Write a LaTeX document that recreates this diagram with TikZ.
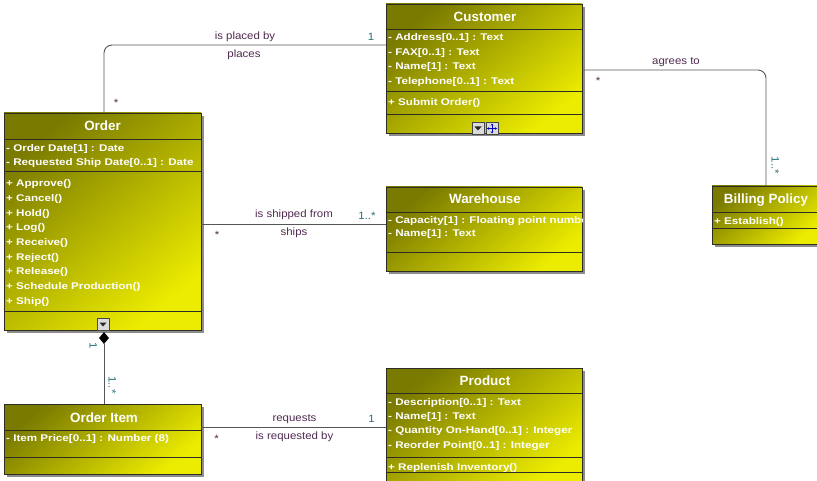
\documentclass[tikz,border=0pt]{standalone}
\usepackage{fontspec}
\setmainfont{Liberation Sans}
\newfontfamily\attrfont[FakeStretch=1.2]{Liberation Sans}
\newfontfamily\labfont[FakeStretch=1.08]{Liberation Sans}
\usetikzlibrary{calc,shadows,shapes.geometric,arrows.meta}
\definecolor{olivedark}{RGB}{122,122,0}
\definecolor{yellowbright}{RGB}{236,236,0}
\definecolor{boxline}{RGB}{45,45,35}
\definecolor{shadowgray}{RGB}{140,140,140}
\definecolor{linecol}{RGB}{85,85,85}
\definecolor{rolecol}{RGB}{80,42,80}
\definecolor{multcol}{RGB}{40,112,122}
\tikzset{
  cls/.style={draw=boxline, line width=0.8pt, inner sep=0pt, outer sep=0pt,
    top color=olivedark, bottom color=yellowbright, shading angle=40,
    drop shadow={shadow xshift=3pt, shadow yshift=-3pt, fill=shadowgray, opacity=1}},
  sepline/.style={draw=boxline, line width=0.8pt},
  ttl/.style={inner sep=0pt, text=white, font=\bfseries\fontsize{13.4}{14}\selectfont},
  attr/.style={anchor=west, inner sep=0pt, text=white, text height=6.8pt, text depth=0pt,
    font=\attrfont\bfseries\fontsize{9.7}{10}\selectfont},
  assoc/.style={draw=linecol, line width=0.9pt},
  role/.style={inner sep=0pt, text=rolecol, text height=7.6pt, text depth=2pt,
    font=\labfont\fontsize{10.6}{12}\selectfont},
  mult/.style={inner sep=0pt, text=multcol, text height=7.6pt, text depth=0pt,
    font=\labfont\fontsize{10.6}{12}\selectfont},
  star/.style={inner sep=0pt, text=rolecol, text height=7.6pt, text depth=0pt,
    font=\labfont\fontsize{10.6}{12}\selectfont},
  iconbox/.style={draw=gray!55!black, fill=gray!28, minimum size=12pt, inner sep=0pt, line width=0.6pt}
}
\newcommand{\clsep}[2]{\draw[sepline] (#1.west |- 0,#2) -- (#1.east |- 0,#2);}
\begin{document}
\begin{tikzpicture}[x=1pt,y=-1pt]
\useasboundingbox (0,0) rectangle (817,481);
\fill[white] (0,0) rectangle (817,481);

% ---------- classes ----------
\node[cls, minimum width=196pt, minimum height=129pt] (customer) at (484,68.5) {};
\clsep{customer}{29}\clsep{customer}{91}\clsep{customer}{114}
\node[ttl] (customert) at (485,17) {Customer};
\node[attr] (c1) at (388,36.7) {- Address[0..1] : Text};
\node[attr] (c2) at (388,51.7) {- FAX[0..1] : Text};
\node[attr] (c3) at (388,66.5) {- Name[1] : Text};
\node[attr] (c4) at (388,81) {- Telephone[0..1] : Text};
\node[attr] (c5) at (388,102.3) {+ Submit Order()};
\node[iconbox] (cicon1) at (478,128.5) {};
\fill[gray!30!black] (474.5,126.5) -- (481.5,126.5) -- (478,130.5) -- cycle;
\node[iconbox] (cicon2) at (492,128.5) {};
\draw[blue!75!black, line width=0.6pt, {Stealth[length=2pt,width=2.5pt]}-{Stealth[length=2pt,width=2.5pt]}] (487,128.5) -- (497,128.5);
\draw[blue!75!black, line width=0.6pt, {Stealth[length=2pt,width=2.5pt]}-{Stealth[length=2pt,width=2.5pt]}] (492,123.5) -- (492,133.5);

\node[cls, minimum width=197pt, minimum height=217pt] (order) at (102.5,221.5) {};
\clsep{order}{139}\clsep{order}{171}\clsep{order}{311}
\node[ttl] (ordert) at (102.5,126) {Order};
\node[attr] (o1) at (6,147.7) {- Order Date[1] : Date};
\node[attr] (o2) at (6,162) {- Requested Ship Date[0..1] : Date};
\node[attr] (o3) at (6,183.5) {+ Approve()};
\node[attr] (o4) at (6,198.1) {+ Cancel()};
\node[attr] (o5) at (6,212.8) {+ Hold()};
\node[attr] (o6) at (6,227.4) {+ Log()};
\node[attr] (o7) at (6,242.1) {+ Receive()};
\node[attr] (o8) at (6,256.7) {+ Reject()};
\node[attr] (o9) at (6,271.4) {+ Release()};
\node[attr] (o10) at (6,286) {+ Schedule Production()};
\node[attr] (o11) at (6,300.7) {+ Ship()};
\node[iconbox] (oicon) at (103,324.5) {};
\fill[gray!30!black] (99.5,322.5) -- (106.5,322.5) -- (103,326.5) -- cycle;

\node[cls, minimum width=196pt, minimum height=84pt] (warehouse) at (484,229) {};
\clsep{warehouse}{212}\clsep{warehouse}{252}
\node[ttl] (warehouset) at (485,199) {Warehouse};
\begin{scope}
\clip (386,187) rectangle (582,271);
\node[attr] (w1) at (388,220) {- Capacity[1] : Floating point number};
\end{scope}
\node[attr] (w2) at (388,233.5) {- Name[1] : Text};

\node[cls, minimum width=108pt, minimum height=58pt] (billing) at (766,215) {};
\clsep{billing}{212}\clsep{billing}{228}
\node[ttl] (billingt) at (766,200) {Billing Policy};
\node[attr] (b1) at (714,221.5) {+ Establish()};

\node[cls, minimum width=197pt, minimum height=70pt] (orderitem) at (102.5,439) {};
\clsep{orderitem}{430}\clsep{orderitem}{457}
\node[ttl] (orderitemt) at (104,417.3) {Order Item};
\node[attr] (i1) at (6,437.7) {- Item Price[0..1] : Number (8)};

\node[cls, minimum width=196pt, minimum height=118pt] (product) at (484,427) {};
\clsep{product}{393}\clsep{product}{457}\clsep{product}{472}
\node[ttl] (productt) at (485,380.7) {Product};
\node[attr] (p1) at (388,401.7) {- Description[0..1] : Text};
\node[attr] (p2) at (388,415.7) {- Name[1] : Text};
\node[attr] (p3) at (388,430.5) {- Quantity On-Hand[0..1] : Integer};
\node[attr] (p4) at (388,445) {- Reorder Point[0..1] : Integer};
\node[attr] (p5) at (388,466.7) {+ Replenish Inventory()};

% ---------- connectors ----------
\draw[assoc, rounded corners=8pt] (order.north -| 104,0) |- (customer.west |- 0,45);
\draw[assoc, rounded corners=8pt] (customer.east |- 0,70) -| (billing.north);
\draw[assoc] (order.east |- 0,224) -- (warehouse.west |- 0,224);
\node[diamond, fill=black, minimum width=10pt, minimum height=12pt, inner sep=0pt, aspect=0.85] (dia) at (104,338) {};
\draw[assoc] (dia.south) -- (orderitem.north -| 104,0);
\draw[assoc] (orderitem.east |- 0,427) -- (product.west |- 0,427);

% ---------- labels ----------
\node[role] (l1) at (245,37) {is placed by};
\node[role] (l2) at (244,54.5) {places};
\node[mult] (l3) at (371,37) {1};
\node[star] (l4) at (116,102.5) {*};
\node[role] (l5) at (676,62) {agrees to};
\node[star] (l6) at (598,80.5) {*};
\node[mult, rotate=-90] (l7) at (775.5,165.5) {1..*};
\node[role] (l8) at (294,215) {is shipped from};
\node[role] (l9) at (294,233) {ships};
\node[mult] (l10) at (367,215.5) {1..*};
\node[star] (l11) at (217,234.5) {*};
\node[mult, rotate=-90] (l12) at (93.5,346) {1};
\node[mult, rotate=-90] (l13) at (112.5,385) {1..*};
\node[role] (l14) at (294.5,419) {requests};
\node[role] (l15) at (294.5,437) {is requested by};
\node[mult] (l16) at (371.5,419) {1};
\node[star] (l17) at (216.5,438.5) {*};
\end{tikzpicture}
\end{document}
